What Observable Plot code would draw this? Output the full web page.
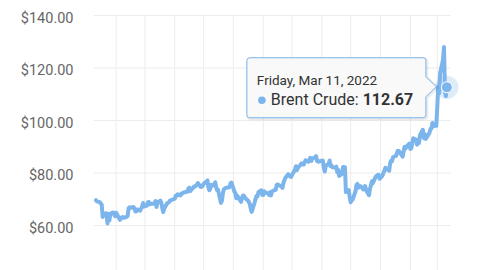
<!DOCTYPE html>
<html>
<head>
<meta charset="utf-8">
<script src="https://cdn.jsdelivr.net/npm/d3@7"></script>
<script src="https://cdn.jsdelivr.net/npm/@observablehq/plot@0.6"></script>
<style>
  html, body { margin: 0; padding: 0; background: #ffffff; }
  #chart { width: 480px; height: 270px; overflow: hidden; }
  svg { font-family: Roboto, "Noto Sans", sans-serif; }
</style>
</head>
<body>
<div id="chart"></div>
<script>
const seriesName = "Brent Crude";

const dates = [
  "2021-03-11","2021-03-12","2021-03-15","2021-03-16","2021-03-17","2021-03-18","2021-03-19","2021-03-22","2021-03-23","2021-03-24","2021-03-25","2021-03-26","2021-03-29","2021-03-30","2021-03-31",
  "2021-04-01","2021-04-05","2021-04-06","2021-04-07","2021-04-08","2021-04-09","2021-04-12","2021-04-13","2021-04-14","2021-04-15","2021-04-16","2021-04-19","2021-04-20","2021-04-21","2021-04-22","2021-04-23","2021-04-26","2021-04-27","2021-04-28","2021-04-29","2021-04-30",
  "2021-05-03","2021-05-04","2021-05-05","2021-05-06","2021-05-07","2021-05-10","2021-05-11","2021-05-12","2021-05-13","2021-05-14","2021-05-17","2021-05-18","2021-05-19","2021-05-20","2021-05-21","2021-05-24","2021-05-25","2021-05-26","2021-05-27","2021-05-28",
  "2021-06-01","2021-06-02","2021-06-03","2021-06-04","2021-06-07","2021-06-08","2021-06-09","2021-06-10","2021-06-11","2021-06-14","2021-06-15","2021-06-16","2021-06-17","2021-06-18","2021-06-21","2021-06-22","2021-06-23","2021-06-24","2021-06-25","2021-06-28","2021-06-29","2021-06-30",
  "2021-07-01","2021-07-02","2021-07-05","2021-07-06","2021-07-07","2021-07-08","2021-07-09","2021-07-12","2021-07-13","2021-07-14","2021-07-15","2021-07-16","2021-07-19","2021-07-20","2021-07-21","2021-07-22","2021-07-23","2021-07-26","2021-07-27","2021-07-28","2021-07-29","2021-07-30",
  "2021-08-02","2021-08-03","2021-08-04","2021-08-05","2021-08-06","2021-08-09","2021-08-10","2021-08-11","2021-08-12","2021-08-13","2021-08-16","2021-08-17","2021-08-18","2021-08-19","2021-08-20","2021-08-23","2021-08-24","2021-08-25","2021-08-26","2021-08-27","2021-08-30","2021-08-31",
  "2021-09-01","2021-09-02","2021-09-03","2021-09-06","2021-09-07","2021-09-08","2021-09-09","2021-09-10","2021-09-13","2021-09-14","2021-09-15","2021-09-16","2021-09-17","2021-09-20","2021-09-21","2021-09-22","2021-09-23","2021-09-24","2021-09-27","2021-09-28","2021-09-29","2021-09-30",
  "2021-10-01","2021-10-04","2021-10-05","2021-10-06","2021-10-07","2021-10-08","2021-10-11","2021-10-12","2021-10-13","2021-10-14","2021-10-15","2021-10-18","2021-10-19","2021-10-20","2021-10-21","2021-10-22","2021-10-25","2021-10-26","2021-10-27","2021-10-28","2021-10-29",
  "2021-11-01","2021-11-02","2021-11-03","2021-11-04","2021-11-05","2021-11-08","2021-11-09","2021-11-10","2021-11-11","2021-11-12","2021-11-15","2021-11-16","2021-11-17","2021-11-18","2021-11-19","2021-11-22","2021-11-23","2021-11-24","2021-11-25","2021-11-26","2021-11-29","2021-11-30",
  "2021-12-01","2021-12-02","2021-12-03","2021-12-06","2021-12-07","2021-12-08","2021-12-09","2021-12-10","2021-12-13","2021-12-14","2021-12-15","2021-12-16","2021-12-17","2021-12-20","2021-12-21","2021-12-22","2021-12-23","2021-12-24","2021-12-27","2021-12-28","2021-12-29","2021-12-30","2021-12-31",
  "2022-01-03","2022-01-04","2022-01-05","2022-01-06","2022-01-07","2022-01-10","2022-01-11","2022-01-12","2022-01-13","2022-01-14","2022-01-17","2022-01-18","2022-01-19","2022-01-20","2022-01-21","2022-01-24","2022-01-25","2022-01-26","2022-01-27","2022-01-28","2022-01-31",
  "2022-02-01","2022-02-02","2022-02-03","2022-02-04","2022-02-07","2022-02-08","2022-02-09","2022-02-10","2022-02-11","2022-02-14","2022-02-15","2022-02-16","2022-02-17","2022-02-18","2022-02-21","2022-02-22","2022-02-23","2022-02-24","2022-02-25","2022-02-28",
  "2022-03-01","2022-03-02","2022-03-03","2022-03-04","2022-03-07","2022-03-08","2022-03-09","2022-03-10","2022-03-11"
];

const prices = [
  69.63,69.22,68.88,68.39,68.00,63.28,64.53,64.62,60.79,64.41,61.95,64.57,64.98,64.14,63.54,
  64.86,62.15,62.74,63.16,63.20,62.95,63.28,63.67,66.58,66.94,66.77,67.05,66.57,65.32,65.40,66.11,65.65,66.42,67.27,68.56,67.25,
  67.56,68.88,68.96,68.09,68.28,68.32,68.55,69.32,67.05,68.71,69.46,68.71,66.66,65.11,66.44,68.46,68.65,68.87,69.46,69.63,
  70.25,71.35,71.31,71.89,71.49,72.22,72.22,72.52,72.69,72.86,73.99,74.39,73.08,73.51,74.90,74.81,75.19,75.56,76.18,74.68,74.76,75.13,
  75.84,76.17,77.16,74.53,73.43,74.12,75.55,75.16,76.49,74.76,73.47,73.59,68.62,69.35,72.23,73.79,74.10,74.50,74.48,74.74,76.05,76.33,
  72.89,72.41,70.38,71.29,70.70,69.04,70.63,71.44,71.31,70.59,69.51,69.03,68.23,66.45,65.18,68.75,70.05,71.25,71.07,72.70,73.41,71.63,
  71.59,73.03,72.61,72.22,71.69,72.60,71.45,72.92,73.51,73.60,75.46,75.67,75.34,74.92,74.36,76.19,77.25,78.09,79.53,79.09,78.64,78.52,
  79.28,81.26,82.56,81.08,81.95,82.39,83.65,83.42,83.18,84.00,84.86,84.33,85.08,85.82,84.61,85.53,85.99,86.40,84.58,84.32,84.38,
  84.71,84.72,81.99,80.54,82.74,83.43,84.78,82.64,82.87,82.17,82.05,82.43,80.28,81.24,78.89,79.70,82.31,82.25,82.22,72.72,73.44,70.57,
  68.87,69.67,69.88,73.08,75.44,75.82,74.42,75.15,74.39,73.70,73.88,75.02,73.52,71.52,73.98,75.29,76.85,76.14,78.60,78.94,79.23,79.32,77.78,
  78.98,80.00,80.80,81.99,81.75,80.87,83.72,84.67,84.47,86.06,86.48,87.51,88.44,88.38,87.89,86.27,88.20,89.96,89.34,90.03,91.21,
  89.16,89.47,91.11,93.27,92.69,90.78,91.55,91.41,94.44,96.48,93.28,94.81,92.97,93.54,95.39,96.84,96.84,99.08,97.93,97.97,
  104.97,112.93,110.46,118.11,123.21,127.98,111.14,109.33,112.67
];

const yTicks = [60, 80, 100, 120, 140];
const monthGrid = ["2021-04-01","2021-05-01","2021-06-01","2021-07-01","2021-08-01","2021-09-01","2021-10-01","2021-11-01","2021-12-01","2022-01-01","2022-02-01","2022-03-01"];

(function () {
  const data = dates.map((d, i) => ({date: new Date(d + "T00:00Z"), price: prices[i]}));
  const last = data[data.length - 1];

  const lineColor = "#7cb5ec";
  const gridColor = "#ececec";
  const fmt = d => "$" + d3.format(".2f")(d);

  const chart = Plot.plot({
    width: 480,
    height: 270,
    marginLeft: 94,
    marginRight: 29.3,
    marginTop: 15,
    marginBottom: 0,
    style: {fontFamily: "Roboto, sans-serif", background: "#ffffff"},
    x: {type: "utc", domain: [new Date("2021-03-09T12:00Z"), new Date("2022-03-15T12:00Z")], axis: null},
    y: {domain: [42.86, 140], axis: null},
    marks: [
      Plot.ruleX(monthGrid.map(d => new Date(d + "T00:00Z")), {stroke: gridColor, strokeWidth: 1}),
      Plot.ruleY(yTicks, {stroke: gridColor, strokeWidth: 1}),
      Plot.axisY({ticks: yTicks, tickSize: 0, tickPadding: 21, fontSize: 14.5, dy: 2.5, tickFormat: fmt, label: null, fill: "#666666"}),
      Plot.line(data, {x: "date", y: "price", stroke: lineColor, strokeWidth: 4, strokeLinejoin: "round", strokeLinecap: "round"}),
      Plot.dot([last], {x: "date", y: "price", r: 11.5, fill: lineColor, fillOpacity: 0.25, stroke: "none"}),
      Plot.dot([last], {x: "date", y: "price", r: 5.5, fill: lineColor, stroke: "#ffffff", strokeWidth: 1})
    ]
  });

  document.getElementById("chart").appendChild(chart);

  // Tooltip positioned from the chart scales
  const px = chart.scale("x").apply(last.date);
  const py = chart.scale("y").apply(last.price);
  const bRight = px - 20.5, bLeft = bRight - 179, bTop = py - 29, bBottom = py + 31;
  const tipX = px - 10, aTop = py - 10, aBot = py + 10, rr = 3;
  const pathD = `M${bLeft + rr},${bTop} L${bRight - rr},${bTop} Q${bRight},${bTop} ${bRight},${bTop + rr} L${bRight},${aTop} L${tipX},${py} L${bRight},${aBot} L${bRight},${bBottom - rr} Q${bRight},${bBottom} ${bRight - rr},${bBottom} L${bLeft + rr},${bBottom} Q${bLeft},${bBottom} ${bLeft},${bBottom - rr} L${bLeft},${bTop + rr} Q${bLeft},${bTop} ${bLeft + rr},${bTop} Z`;

  const svg = d3.select(chart);
  const g = svg.append("g").attr("text-anchor", "start");
  g.append("path").attr("d", pathD).attr("transform", "translate(1,1)").attr("fill", "none").attr("stroke", "rgba(0,0,0,0.08)").attr("stroke-width", 3);
  g.append("path").attr("d", pathD).attr("fill", "rgba(248,248,248,0.92)").attr("stroke", lineColor).attr("stroke-width", 1);
  g.append("text").attr("x", bLeft + 10).attr("y", py - 2).attr("font-size", 13.5).attr("fill", "#333333")
    .attr("text-anchor", "start").attr("font-family", "Roboto, sans-serif").text(d3.utcFormat("%A, %b %-d, %Y")(last.date));
  g.append("circle").attr("cx", bLeft + 15).attr("cy", py + 13.5).attr("r", 3.8).attr("fill", lineColor);
  const t2 = g.append("text").attr("x", bLeft + 24).attr("y", py + 18.5).attr("font-size", 16).attr("fill", "#333333")
    .attr("text-anchor", "start").attr("font-family", "Roboto, sans-serif");
  t2.append("tspan").text(seriesName + ": ");
  t2.append("tspan").attr("font-weight", "bold").text(d3.format(".2f")(last.price));
})();
</script>
</body>
</html>
